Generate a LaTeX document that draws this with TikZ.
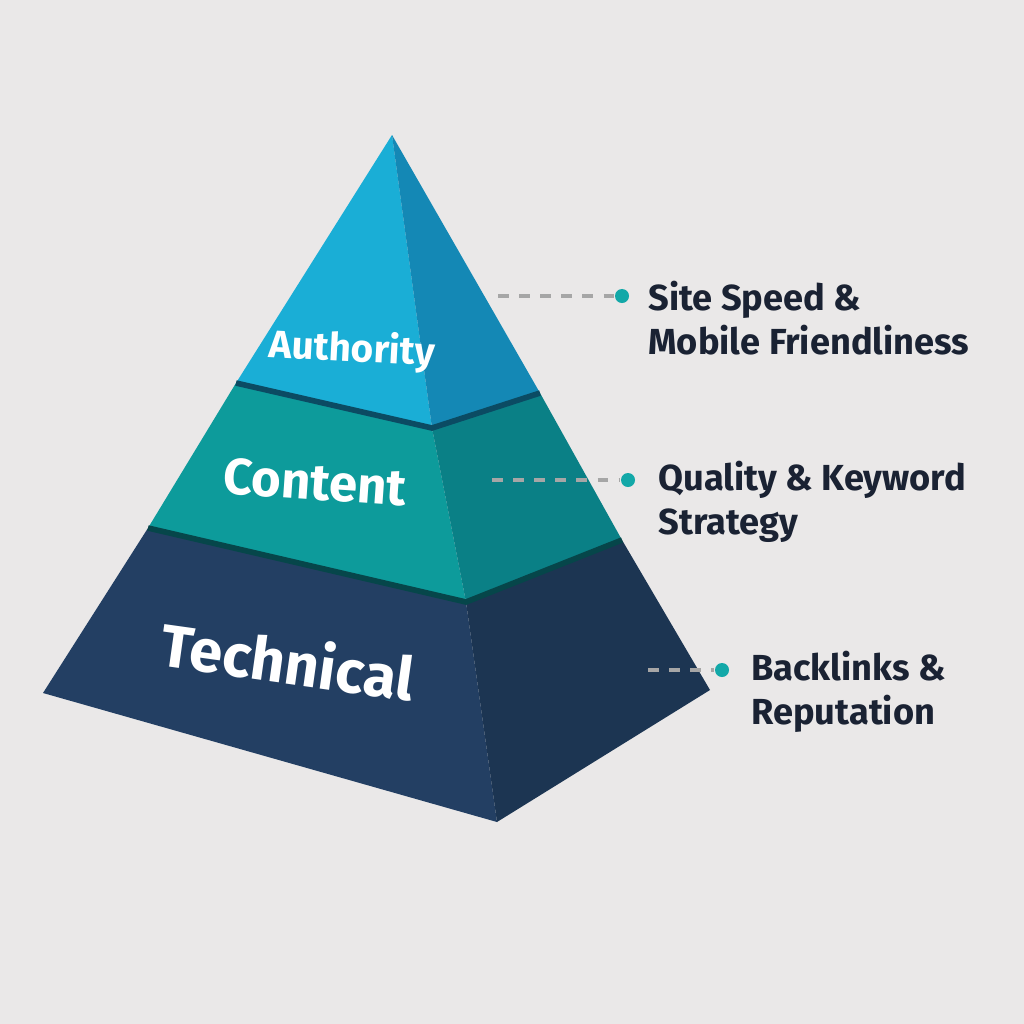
\documentclass[tikz,border=0pt]{standalone}
\usepackage{fontspec}
\setmainfont{Fira Sans}
\definecolor{bg}{HTML}{EAE8E8}
\definecolor{tl}{HTML}{1AAED6}\definecolor{tr}{HTML}{1488B5}
\definecolor{ml}{HTML}{0D9B9B}\definecolor{mr}{HTML}{0A8086}
\definecolor{bl}{HTML}{233F63}\definecolor{br}{HTML}{1C3552}
\definecolor{dotc}{HTML}{13A8A8}\definecolor{txt}{HTML}{1A2233}
\begin{document}
\begin{tikzpicture}[x=0.01cm,y=-0.01cm,
 lbl/.style={anchor=west,align=left,text=txt,font=\fontsize{10.3}{12.6}\selectfont\bfseries},
 lead/.style={draw=gray!70,dashed,line width=1.2pt},
 dotn/.style={circle,fill=dotc,inner sep=0pt,minimum size=0.14cm}]
\fill[bg] (0,0) rectangle (1024,1024);
\useasboundingbox (0,0) rectangle (1024,1024);
% bottom layer
\fill[bl] (148,528) -- (466,602) -- (497,822) -- (43,693) -- cycle;
\fill[br] (466,602) -- (622,540) -- (710,690) -- (497,822) -- cycle;
% middle
\fill[ml] (236,383) -- (432,428) -- (466,602) -- (148,528) -- cycle;
\fill[mr] (432,428) -- (540,393) -- (622,540) -- (466,602) -- cycle;
% top
\fill[tl] (392,135) -- (432,428) -- (236,383) -- cycle;
\fill[tr] (392,135) -- (540,393) -- (432,428) -- cycle;
% separators
\draw[line width=1.6pt,black!45!tr] (236,383) -- (432,428) -- (540,393);
\draw[line width=1.6pt,black!45!mr] (148,528) -- (466,602) -- (622,540);
% texts
\node[text=white,font=\fontsize{11}{13}\selectfont\bfseries,rotate=-3] (a) at (352,350) {Authority};
\node[text=white,font=\fontsize{14.5}{17}\selectfont\bfseries,rotate=-4] (c) at (315,482) {Content};
\node[text=white,font=\fontsize{17}{20}\selectfont\bfseries,rotate=-8] (t) at (288,660) {Technical};
% labels
\coordinate (s1) at (498,296); \node[dotn] (d1) at (622,296) {};
\node[lbl] (l1) at (636,318) {Site Speed \&\\Mobile Friendliness};
\draw[lead] (s1) -- (d1.west);
\coordinate (s2) at (492,480); \node[dotn] (d2) at (628,480) {};
\node[lbl] (l2) at (646,502) {Quality \& Keyword\\Strategy};
\draw[lead] (s2) -- (d2.west);
\coordinate (s3) at (648,670); \node[dotn] (d3) at (722,670) {};
\node[lbl] (l3) at (739,692) {Backlinks \&\\Reputation};
\draw[lead] (s3) -- (d3.west);
\end{tikzpicture}
\end{document}
